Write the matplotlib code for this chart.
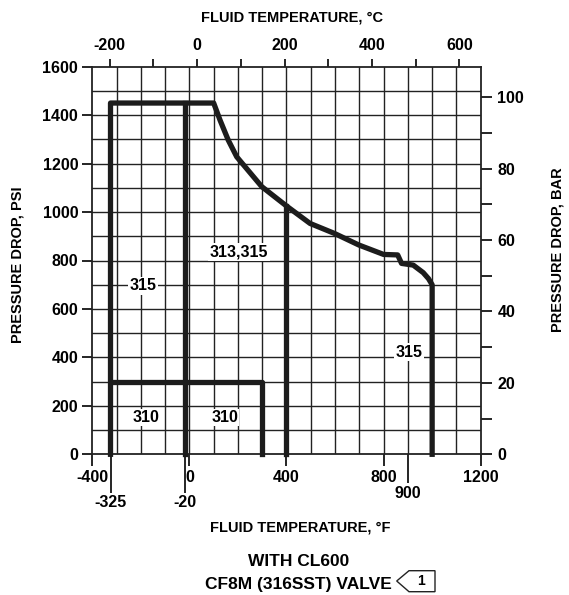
import numpy as np
import matplotlib
matplotlib.use('Agg')
import matplotlib.pyplot as plt
from matplotlib.patches import Polygon
from matplotlib import font_manager

# fonts
names = {f.name for f in font_manager.fontManager.ttflist}
narrow = 'Liberation Sans Narrow' if 'Liberation Sans Narrow' in names else 'Liberation Sans'
plt.rcParams['font.family'] = ['Liberation Sans', 'DejaVu Sans']
plt.rcParams['font.weight'] = 'bold'

# data (deg F, psi)
curve_f = [100, 126, 160, 195, 298, 400, 497, 597, 698, 800, 858, 874, 922, 963, 985, 1000]
curve_psi = [1450, 1380, 1297, 1228, 1105, 1025, 953, 912, 864, 825, 823, 788, 781, 750, 725, 700]
box315_f = [-325, -325]
box315_psi = [0, 1450]
end_f = [1000]
end_psi = [0]
line_m20_f = [-20, -20]
line_m20_psi = [0, 1450]
line_400_f = [400, 400]
line_400_psi = [0, 1025]
box310_f = [-325, 300, 300]
box310_psi = [300, 300, 0]

labels = ['315', '313,315', '315', '310', '310']
label_f = [-190, 205, 905, -180, 145]
label_psi = [695, 836, 422, 152, 152]

f_ticks = [-400, 0, 400, 800, 1200]
f_special = [-325, -20]
f_special2 = [900]
psi_ticks = list(range(0, 1601, 200))
c_ticks = [-200, 0, 200, 400, 600]
c_minor = [-100, 100, 300, 500]
bar_ticks = [0, 20, 40, 60, 80, 100]
bar_minor = [10, 30, 50, 70, 90]
psi_per_bar = 14.74

W, H = 569, 595
fig = plt.figure(figsize=(W / 100, H / 100), dpi=100)
ax = fig.add_axes([92.3 / W, 1 - 454.3 / H, 388.4 / W, 387.6 / H])
ax.set_xlim(-400, 1200)
ax.set_ylim(0, 1600)

# grid
for g in np.arange(-300, 1200, 100):
    ax.axvline(g, color='#222222', lw=1.0, zorder=1)
for g in np.arange(100, 1600, 100):
    ax.axhline(g, color='#222222', lw=1.0, zorder=1)
for s in ax.spines.values():
    s.set_linewidth(1.3)
    s.set_color('#222222')

# thick limit lines
lk = dict(color='#1c1c1c', lw=3.8, solid_capstyle='projecting', solid_joinstyle='round', zorder=3, clip_on=False)
ax.plot(box315_f + curve_f + end_f, box315_psi + curve_psi + end_psi, **lk)
ax.plot(line_m20_f, line_m20_psi, **lk)
ax.plot(line_400_f, line_400_psi, **lk)
ax.plot(box310_f, box310_psi, **lk)

for t, x, y in zip(labels, label_f, label_psi):
    ax.text(x, y, t, ha='center', va='center', fontsize=11.5, fontweight='bold', zorder=4,
            bbox=dict(facecolor='white', edgecolor='none', pad=1.0))

# bottom axis
ax.set_xticks(f_ticks)
ax.set_xticklabels([str(v) for v in f_ticks])
ax.set_xticks(f_special, minor=True)
ax.set_xticklabels([str(v) for v in f_special], minor=True)
ax.tick_params(axis='x', which='major', length=8.6, width=1.2, labelsize=11.5, pad=3)
ax.tick_params(axis='x', which='minor', length=28, width=1.2, labelsize=11.5, pad=1.5)
axb = ax.secondary_xaxis('bottom', functions=(lambda v: v, lambda v: v))
axb.set_xticks(f_special2)
axb.set_xticklabels([str(v) for v in f_special2])
axb.tick_params(axis='x', length=21, width=1.2, labelsize=11.5, pad=2)
axb.spines['bottom'].set_visible(False)

# left axis
ax.set_yticks(psi_ticks)
ax.set_yticklabels([str(v) for v in psi_ticks])
ax.tick_params(axis='y', length=7.2, width=1.2, labelsize=11.5, pad=3)

# top axis, deg C
axt = ax.secondary_xaxis('top', functions=(lambda f: (f - 32) * 5 / 9, lambda c: c * 9 / 5 + 32))
axt.set_xticks(c_ticks)
axt.set_xticklabels([str(v) for v in c_ticks])
axt.set_xticks(c_minor, minor=True)
axt.tick_params(axis='x', which='both', length=6, width=1.2, labelsize=11.5, pad=4)
axt.spines['top'].set_visible(False)

# right axis, bar
axr = ax.secondary_yaxis('right', functions=(lambda p: p / psi_per_bar, lambda b: b * psi_per_bar))
axr.set_yticks(bar_ticks)
axr.set_yticklabels([str(v) for v in bar_ticks])
axr.set_yticks(bar_minor, minor=True)
axr.tick_params(axis='y', which='both', length=8, width=1.2, labelsize=11.5, pad=4)
axr.spines['right'].set_visible(False)

# titles
def px(x, y):
    return x / W, 1 - y / H

fig.text(*px(292, 18), 'FLUID TEMPERATURE, °C', ha='center', va='center', fontsize=10.5, fontweight='bold')
fig.text(*px(300, 527), 'FLUID TEMPERATURE, °F', ha='center', va='center', fontsize=10.5, fontweight='bold')
fig.text(*px(18, 265), 'PRESSURE DROP, PSI', ha='center', va='center', rotation=90, fontsize=10.5, fontweight='bold')
fig.text(*px(557, 250), 'PRESSURE DROP, BAR', ha='center', va='center', rotation=90, fontsize=10.5, fontweight='bold')
fig.text(*px(299, 561), 'WITH CL600', ha='center', va='center', fontsize=12.5, fontweight='bold', family=[narrow, 'DejaVu Sans'])
fig.text(*px(298, 584), 'CF8M (316SST) VALVE', ha='center', va='center', fontsize=12.5, fontweight='bold', family=[narrow, 'DejaVu Sans'])

flag = [px(396.7, 581), px(409, 570.7), px(435, 570.7), px(435, 591.7), px(409, 591.7)]
fig.patches.append(Polygon(flag, closed=True, transform=fig.transFigure, facecolor='white',
                           edgecolor='#222222', lw=1.0))
fig.text(*px(421, 581), '1', ha='center', va='center', fontsize=10, fontweight='bold')

fig.savefig('out.png', dpi=100, facecolor='white')
